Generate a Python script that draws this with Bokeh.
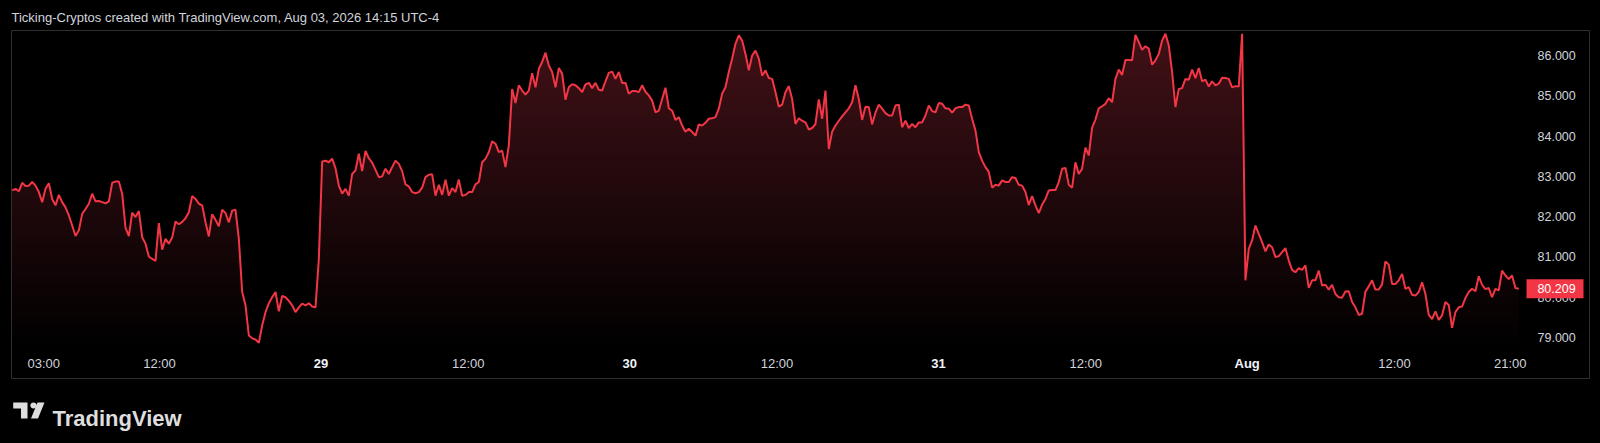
import numpy as np
from bokeh.plotting import figure
from bokeh.layouts import column
from bokeh.models import Range1d, LinearAxis, FixedTicker, NumeralTickFormatter
from bokeh.core.properties import value
from bokeh.embed import file_html
from bokeh.resources import INLINE

# ---------------- data ----------------
# ~15-minute closes, Jul 28 00:33 -> Aug 1 21:40 (hours since Jul 28 00:00)
t_first, t_last = 0.55, 117.66
close = [
    82.65, 82.69, 82.63, 82.84, 82.76, 82.77, 82.86, 82.77, 82.61, 82.36,
    82.69, 82.83, 82.44, 82.28, 82.54, 82.36, 82.23, 82.03, 81.78, 81.52,
    81.66, 82.07, 82.19, 82.32, 82.57, 82.38, 82.39, 82.36, 82.33, 82.38,
    82.84, 82.87, 82.87, 82.57, 81.72, 81.52, 82.10, 81.99, 82.14, 81.49,
    81.33, 81.01, 80.95, 80.90, 81.84, 81.18, 81.45, 81.33, 81.48, 81.88,
    81.81, 81.87, 81.96, 82.11, 82.51, 82.44, 82.32, 82.28, 81.86, 81.51,
    82.06, 81.92, 81.76, 82.17, 82.09, 81.86, 82.15, 82.17, 81.45, 80.13,
    79.80, 79.05, 78.98, 78.95, 78.87, 79.30, 79.63, 79.85, 80.00, 80.13,
    79.65, 80.03, 80.00, 79.91, 79.80, 79.63, 79.75, 79.84, 79.80, 79.85,
    79.77, 79.75, 80.95, 83.37, 83.39, 83.35, 83.44, 83.20, 82.77, 82.57,
    82.69, 82.52, 83.06, 83.15, 83.56, 83.13, 83.63, 83.45, 83.34, 83.16,
    82.98, 83.00, 83.19, 83.06, 83.23, 83.39, 83.31, 83.13, 82.80, 82.75,
    82.61, 82.58, 82.61, 82.72, 82.98, 83.04, 83.05, 82.52, 82.79, 82.54,
    82.92, 82.52, 82.71, 82.61, 82.92, 82.52, 82.54, 82.61, 82.61, 82.80,
    82.86, 83.35, 83.44, 83.60, 83.87, 83.81, 83.60,
    83.64, 83.23, 83.77, 85.17, 84.82, 85.26, 85.13, 85.03, 85.13, 85.56,
    85.21, 85.67, 85.84, 86.07, 85.75, 85.59, 85.21, 85.69, 85.55, 84.90,
    85.21, 85.29, 85.26, 85.19, 85.09, 85.28, 85.32, 85.19, 85.32, 85.15,
    85.13, 85.36, 85.57, 85.60, 85.42, 85.59, 85.32, 85.32, 85.05, 85.12,
    85.12, 85.09, 85.26, 85.10, 85.01, 84.88, 84.59, 84.63, 84.92, 85.20,
    84.69, 84.63, 84.40, 84.47, 84.26, 84.11, 84.18, 84.10, 84.01, 84.29,
    84.26, 84.33, 84.43, 84.44, 84.47, 84.68, 85.05, 85.21, 85.59, 85.92,
    86.29, 86.50, 86.37, 86.04, 85.63, 86.00, 86.12, 85.92, 85.50, 85.63,
    85.44, 85.42, 85.09, 84.73, 84.78, 85.09, 85.24, 84.92, 84.30, 84.44,
    84.38, 84.34, 84.16, 84.20, 84.30, 84.91, 84.43, 85.13, 83.68, 84.11,
    84.26, 84.38, 84.49, 84.59, 84.69, 84.84, 85.26, 84.92, 84.40, 84.73,
    84.72, 84.29, 84.58, 84.78, 84.68, 84.57, 84.51, 84.51, 84.76, 84.78,
    84.22, 84.38, 84.20, 84.30, 84.22, 84.34, 84.34, 84.51, 84.76, 84.62,
    84.59, 84.82, 84.80, 84.69, 84.68, 84.58, 84.69, 84.72, 84.72, 84.78,
    84.76, 84.43, 84.14, 83.60, 83.39, 83.23, 83.11,
    82.72, 82.79, 82.77, 82.90, 82.86, 82.86, 82.98, 82.96, 82.79, 82.77,
    82.61, 82.29, 82.51, 82.28, 82.09, 82.30, 82.44, 82.65, 82.66, 82.66,
    82.86, 83.19, 83.21, 82.79, 82.72, 83.35, 83.06, 83.19, 83.71, 83.52,
    84.21, 84.41, 84.69, 84.74, 84.80, 84.94, 84.84, 85.42, 85.65, 85.52,
    85.89, 85.89, 85.88, 86.51, 86.33, 86.14, 86.23, 86.17, 85.77, 85.88,
    86.04, 86.37, 86.54, 86.25, 85.59, 84.72, 85.17, 85.19, 85.42, 85.40,
    85.65, 85.44, 85.69, 85.36, 85.40, 85.23, 85.36, 85.26, 85.30, 85.45,
    85.44, 85.42, 85.21, 85.24, 85.23, 86.54, 80.42, 81.20, 81.41, 81.78,
    81.57, 81.37, 81.14, 81.31, 81.24, 81.00, 81.02, 81.12, 81.22, 80.91,
    80.68, 80.62, 80.72, 80.68, 80.79, 80.23, 80.42, 80.42, 80.66, 80.29,
    80.31, 80.19, 80.31, 80.08, 80.00, 79.99, 80.14, 80.15, 79.88, 79.75,
    79.56, 79.59, 80.14, 80.27, 80.42, 80.19, 80.19, 80.32, 80.89, 80.81,
    80.33, 80.33, 80.42, 80.58, 80.21, 80.25, 80.06, 80.04, 80.13, 80.37,
    80.08, 79.56, 79.46, 79.65, 79.44, 79.55, 79.88, 79.81, 79.24, 79.63,
    79.75, 79.77, 79.98, 80.13, 80.21, 80.15, 80.52, 80.31, 80.20, 80.23,
    80.00, 80.21, 80.17, 80.66, 80.54, 80.45, 80.54, 80.23, 80.209,
]
y_ticks = [79, 80, 81, 82, 83, 84, 85, 86]
hour_ticks = [3, 12, 36, 60, 84, 108, 117]
hour_labels = ["03:00", "12:00", "12:00", "12:00", "12:00", "12:00", "21:00"]
day_ticks = [24, 48, 72, 96]
day_labels = ["29", "30", "31", "Aug"]
title_text = "Ticking-Cryptos created with TradingView.com, Aug 03, 2026 14:15 UTC-4"
brand_text = "TradingView"

times = np.linspace(t_first, t_last, len(close))
close_arr = np.array(close)

FONT = "Liberation Sans"
LINE = "#f23645"
TXT = "#d1d4dc"

X0, X1 = 0.496, 123.16          # visible time window (hours)
FRAME_L, FRAME_W = 11, 1578     # pane position on the canvas (px)

p = figure(width=1600, height=393,
           x_range=Range1d(X0, X1), y_range=Range1d(77.983, 86.6205),
           output_backend="svg", toolbar_location=None,
           x_axis_location=None, y_axis_location=None,
           min_border_left=FRAME_L, min_border_right=1600 - FRAME_L - FRAME_W,
           min_border_top=30, min_border_bottom=15,
           background_fill_color="#000000", border_fill_color="#000000",
           outline_line_color="#2f2f2f", outline_line_width=1)
p.xgrid.visible = False
p.ygrid.visible = False

p.title.text = title_text
p.title.align = "left"
p.title.text_font = FONT
p.title.text_font_size = "13px"
p.title.text_font_style = "normal"
p.title.text_color = TXT
p.title.standoff = 12

# ---- gradient area (stacked opaque bands, tallest band drawn first) ----
base, top = 78.68, 86.62
n_bands = 48
levels = np.linspace(base, top, n_bands + 1)
top_rgb = (66, 17, 23)
for k in range(n_bands - 1, -1, -1):
    fr = ((levels[k] + levels[k + 1]) / 2 - base) / (top - base)
    col = "#%02x%02x%02x" % tuple(int(round(c * fr)) for c in top_rgb)
    p.varea(x=times, y1=base, y2=np.minimum(close_arr, levels[k + 1]),
            fill_color=col, fill_alpha=1.0)

p.line(times, close_arr, line_color=LINE, line_width=2)

# ---- axes drawn inside the pane, TradingView style ----
yaxis = LinearAxis(ticker=FixedTicker(ticks=y_ticks),
                   formatter=NumeralTickFormatter(format="0.000"),
                   axis_line_color=None, major_tick_line_color=None,
                   minor_tick_line_color=None, major_tick_out=0, major_tick_in=0,
                   major_label_standoff=-52,
                   major_label_text_color=TXT,
                   major_label_text_font=FONT, major_label_text_font_size="12.5px")
p.add_layout(yaxis, "right")

xaxis = LinearAxis(ticker=FixedTicker(ticks=hour_ticks),
                   major_label_overrides={t: l for t, l in zip(hour_ticks, hour_labels)},
                   axis_line_color=None, major_tick_line_color=None,
                   minor_tick_line_color=None, major_tick_out=0, major_tick_in=0,
                   major_label_standoff=-23,
                   major_label_text_color=TXT,
                   major_label_text_font=FONT, major_label_text_font_size="13px")
p.add_layout(xaxis, "below")

# TradingView draws the day labels starting at the day boundary (not centred on it)
day_label_shift = 0.55  # hours
day_pos = [t + day_label_shift for t in day_ticks]
daxis = LinearAxis(ticker=FixedTicker(ticks=day_pos),
                   major_label_overrides={t: l for t, l in zip(day_pos, day_labels)},
                   axis_line_color=None, major_tick_line_color=None,
                   minor_tick_line_color=None, major_tick_out=0, major_tick_in=0,
                   major_label_standoff=-23,
                   major_label_text_color="#f0f3fa", major_label_text_font_style="bold",
                   major_label_text_font=FONT, major_label_text_font_size="13px")
p.add_layout(daxis, "below")

# ---- last price tag, on the price scale ----
tag_px = 1554.5
tag_x = X0 + (tag_px - FRAME_L) / FRAME_W * (X1 - X0)
r_box = p.rect(x=[tag_x], y=[close[-1]], width=57, height=19,
               width_units="screen", height_units="screen",
               fill_color=LINE, line_color=None)
r_box.level = "overlay"
r_txt = p.text(x=[tag_x], y=[close[-1]], text=["%.3f" % close[-1]], x_offset=1.5,
               text_align="center", text_baseline="middle", text_color="#ffffff",
               text_font=value(FONT), text_font_size="12.5px")
r_txt.level = "overlay"

# ---- footer with the TradingView brand (x in page pixels, y down from its top) ----
f = figure(width=1600, height=47, x_range=Range1d(FRAME_L, FRAME_L + FRAME_W),
           y_range=Range1d(47, 0),
           output_backend="svg", toolbar_location=None, title_location=None,
           x_axis_location=None, y_axis_location=None,
           min_border_left=FRAME_L, min_border_right=1600 - FRAME_L - FRAME_W,
           min_border_top=0, min_border_bottom=0,
           background_fill_color="#000000", border_fill_color="#000000",
           outline_line_color=None)
f.xgrid.visible = False
f.ygrid.visible = False
logo_col = "#dedede"
ang = np.linspace(0, 2 * np.pi, 17)[:-1]
f.patches(xs=[[12.7, 27, 27, 20.5, 20.5, 12.7],
              list(33 + 3.1 * np.cos(ang)),
              [37, 44, 37.5, 30.5]],
          ys=[[9, 9, 25, 25, 15, 15],
              list(12 + 3.1 * np.sin(ang)),
              [9, 9, 25, 25]],
          fill_color=logo_col, line_color=None)
f.text(x=[52], y=[25], text=[brand_text], text_font=value(FONT), text_font_size="22px",
       text_font_style="bold", text_baseline="alphabetic", text_align="left",
       text_color=logo_col)

layout = column(p, f, spacing=0)
html = file_html(layout, INLINE)
html = html.replace("</head>", "<style>html,body{background:#000000;}</style></head>", 1)
open("out.html", "w").write(html)
